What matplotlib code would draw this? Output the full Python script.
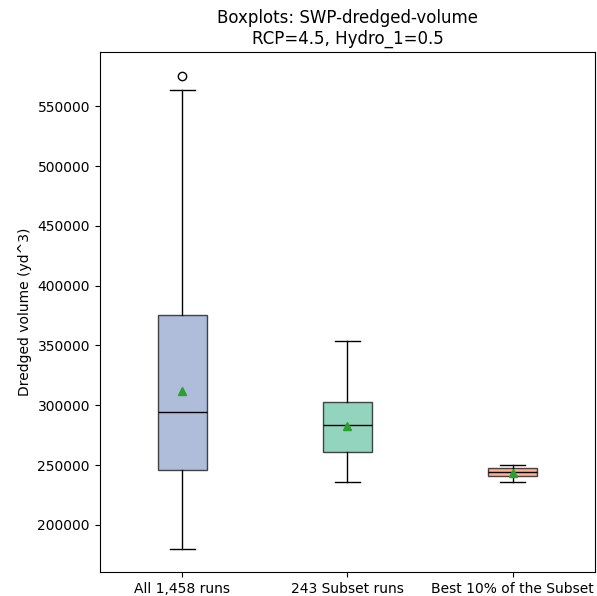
import matplotlib
matplotlib.use('Agg')
import matplotlib.pyplot as plt


LABELS = ['All 1,458 runs', '243 Subset runs', 'Best 10% of the Subset']
Q1 = [246200, 260500, 241200]
MED = [294700, 283400, 244300]
Q3 = [375800, 303100, 247400]
WLO = [180200, 235400, 235600]
WHI = [563700, 354100, 249800]
MEANS = [312300, 283000, 243500]
FLIERS = [[575700], [], []]
COLORS = ['#8da0cb', '#66c2a5', '#fc8d62']


stats = []
for i in range(len(LABELS)):
    stats.append({
        'label': LABELS[i],
        'q1': Q1[i], 'med': MED[i], 'q3': Q3[i],
        'whislo': WLO[i], 'whishi': WHI[i],
        'mean': MEANS[i], 'fliers': FLIERS[i],
    })

fig = plt.figure(figsize=(5.97, 5.96), dpi=100)
ax = fig.add_axes([0.167, 0.04, 0.83, 0.873])

bp = ax.bxp(stats, showmeans=True, patch_artist=True, widths=0.3,
            medianprops={'color': 'black'})
for patch, c in zip(bp['boxes'], COLORS):
    patch.set_facecolor(c)
    patch.set_alpha(0.7)

ax.set_title('Boxplots: SWP-dredged-volume\nRCP=4.5, Hydro_1=0.5')
ax.set_ylabel('Dredged volume (yd^3)')

fig.savefig('out.png', dpi=100)
